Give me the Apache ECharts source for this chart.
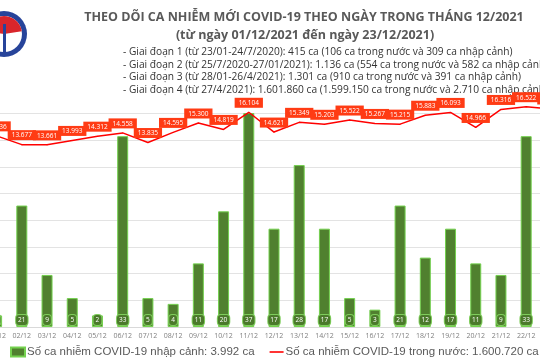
<!DOCTYPE html>
<html><head><meta charset="utf-8">
<script src="https://cdn.jsdelivr.net/npm/echarts@6/dist/echarts.min.js"></script>
<style>html,body{margin:0;padding:0;background:#fff;overflow:hidden;width:540px;height:360px}#c{position:absolute;left:-16px;top:0;width:580px;height:360px}</style>
</head><body><div id="c"></div>
<script>
const days = ['01/12','02/12','03/12','04/12','05/12','06/12','07/12','08/12','09/12','10/12','11/12','12/12','13/12','14/12','15/12','16/12','17/12','18/12','19/12','20/12','21/12','22/12','23/12'];
const imported = [2,21,9,5,2,33,5,4,11,20,37,17,28,17,5,3,21,12,17,11,9,33,16];
const domestic = [14336,13677,13661,13993,14312,14558,13835,14595,15300,14819,16104,14621,15349,15203,15522,15267,15215,15883,16093,14966,16316,16522,16350];
const titleLines = ['THEO DÕI CA NHIỄM MỚI COVID-19 THEO NGÀY TRONG THÁNG 12/2021','(từ ngày 01/12/2021 đến ngày 23/12/2021)'];
const stageLines = [
 '- Giai đoạn 1 (từ 23/01-24/7/2020): 415 ca (106 ca trong nước và 309 ca nhập cảnh)',
 '- Giai đoạn 2 (từ 25/7/2020-27/01/2021): 1.136 ca (554 ca trong nước và 582 ca nhập cảnh)',
 '- Giai đoạn 3 (từ 28/01-26/4/2021): 1.301 ca (910 ca trong nước và 391 ca nhập cảnh)',
 '- Giai đoạn 4 (từ 27/4/2021): 1.601.860 ca (1.599.150 ca trong nước và 2.710 ca nhập cảnh)'
];
const seriesNames = ['Số ca nhiễm COVID-19 nhập cảnh: 3.992 ca','Số ca nhiễm COVID-19 trong nước: 1.600.720 ca'];

const OX = 16; // container offset
const fmt = v => String(v).replace(/\B(?=(\d{3})+(?!\d))/g, '.');
const chart = echarts.init(document.getElementById('c'), null, {renderer:'canvas'});
const graphics = [
  {type:'circle', shape:{cx:OX+4, cy:34, r:23}, style:{fill:'#27449a'}},
  {type:'circle', shape:{cx:OX+4, cy:34, r:18}, style:{fill:'#ffffff'}},
  {type:'sector', shape:{cx:OX+4, cy:34, r:18, r0:0, startAngle:Math.PI*1.05, endAngle:Math.PI*1.95}, style:{fill:'#d9262b'}},
  {type:'rect', shape:{x:OX+3, y:24, width:3, height:28}, style:{fill:'#27449a'}},
  {type:'text', x:OX+304, y:17, style:{text:titleLines[0], align:'center', verticalAlign:'middle', fill:'#595959', font:'bold 12.5px "Open Sans"'}},
  {type:'text', x:OX+305, y:35, style:{text:titleLines[1], align:'center', verticalAlign:'middle', fill:'#595959', font:'bold 12.5px "Open Sans"'}},
];
stageLines.forEach((t,i)=>graphics.push({type:'text', x:OX+123, y:52+i*12.7, style:{text:t, verticalAlign:'middle', fill:'#333', font:'10.2px "Open Sans"'}}));

chart.setOption({
  animation:false,
  graphic: graphics,
  grid:{left:0, right:0, top:87, bottom:33, containLabel:false},
  legend:{
    left:OX+10, bottom:2, width:560, itemWidth:14, itemHeight:9, itemGap:15, padding:0,
    textStyle:{fontFamily:'Liberation Sans', fontSize:11.5, color:'#595959', padding:[0,0,0,-3]},
    data:[{name:seriesNames[0], icon:'rect'},{name:seriesNames[1], icon:'path://M0,4H14V5.6H0Z'}]
  },
  xAxis:{type:'category', data:days, boundaryGap:true,
    axisLine:{lineStyle:{color:'#d9d9d9'}}, axisTick:{show:false},
    axisLabel:{fontSize:7, color:'#7f7f7f', margin:5, fontFamily:'Open Sans', interval:0}},
  yAxis:[
    {type:'value', min:0, max:41.5, show:false, splitLine:{show:false}},
    {type:'value', min:0, max:18000, interval:2000, position:'right',
      axisLabel:{show:false}, axisLine:{show:false}, axisTick:{show:false},
      splitLine:{show:true, showMaxLine:false, lineStyle:{color:'#e3e3e3'}}}
  ],
  series:[
    {name:seriesNames[0], type:'bar', data:imported, yAxisIndex:0, barWidth:11,
      itemStyle:{color:'#50802f', borderColor:'#74d14f', borderWidth:1},
      label:{show:true, position:'insideBottom', distance:2, color:'#fff', fontSize:6.5, fontFamily:'Open Sans',
        backgroundColor:'#4b7a2b', borderColor:'#7fce5c', borderWidth:1, borderRadius:3, padding:[2,2,1,2]}},
    {name:seriesNames[1], type:'line', data:domestic, yAxisIndex:1, symbol:'circle', symbolSize:1,
      itemStyle:{color:'#ff0000'}, lineStyle:{color:'#ff0000', width:1.5},
      label:{show:true, position:'top', distance:4, color:'#fff', fontSize:6.5, fontFamily:'Open Sans',
        backgroundColor:'#ff3b14', padding:[2,4,1,4], formatter:p=>fmt(p.value)}}
  ]
});
</script></body></html>
